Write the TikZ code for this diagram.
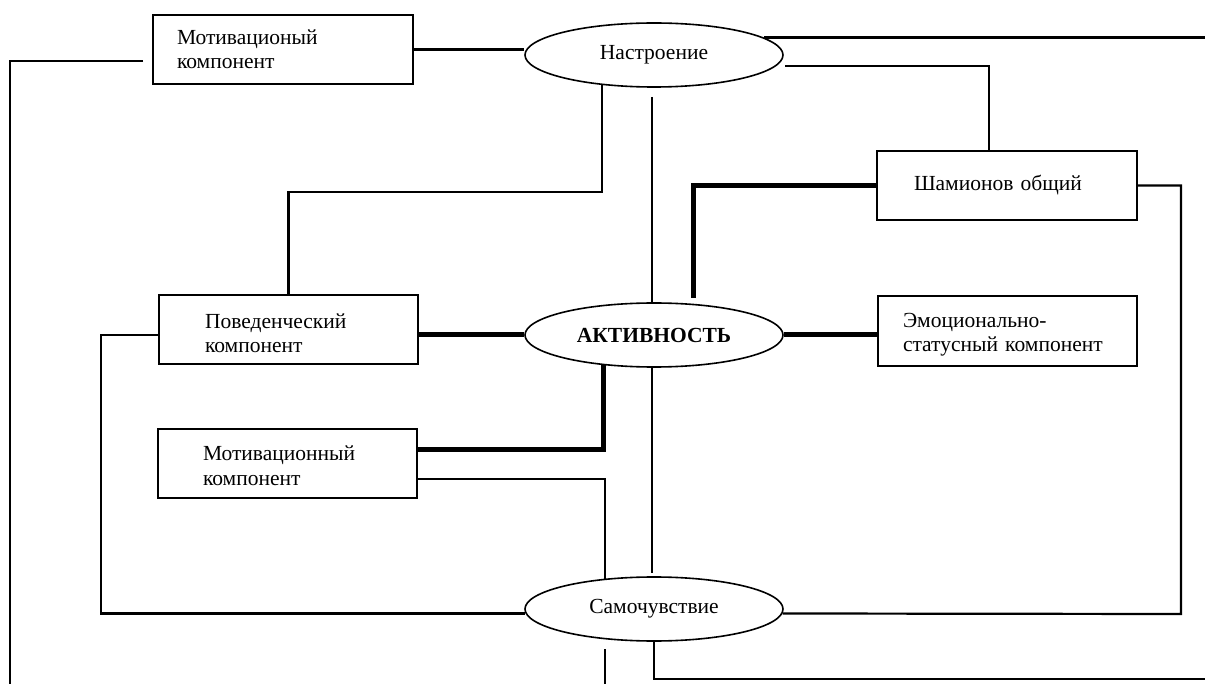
\documentclass[tikz,border=0pt]{standalone}
\usepackage{fontspec}
\setmainfont{Liberation Serif}
\usetikzlibrary{shapes.geometric,calc}
\begin{document}
\begin{tikzpicture}[x=1pt,y=-1pt,
  box/.style={draw, line width=1.6pt, rectangle, minimum height=69pt, align=left,
    font=\fontsize{21.5}{24.5}\selectfont, inner ysep=0pt},
  oval/.style={draw, line width=1.6pt, ellipse, minimum width=258pt, minimum height=64pt,
    inner sep=0pt, font=\fontsize{21.5}{24.5}\selectfont},
  lnk/.style={line width=2.2pt},
  lnkb/.style={line width=5pt}]
\useasboundingbox (0,0) rectangle (1205,684);

% boxes
\node[box, inner xsep=24pt, text width=212pt] (b1) at (283,49.5) {Мотивационый\\компонент};
\node[box, inner xsep=37pt, text width=186pt] (bsham) at (1007,185.5) {Шамионов общий};
\node[box, inner xsep=46pt, text width=167pt, text height=22pt] (bpov) at (288.5,329.5) {Поведенческий\\компонент};
\node[box, inner xsep=25pt, text width=209pt, minimum height=70pt, text height=22pt] (bemo) at (1007.5,331) {Эмоционально-\\\mbox{статусный компонент}};
\node[box, inner xsep=45pt, text width=169pt, text height=19pt] (bmot) at (287.5,463.5) {Мотивационный\\компонент};

% ellipses
\node[oval] (nastr) at (654,55) {Настроение};
\node[oval, font=\fontsize{21.5}{24.5}\selectfont\bfseries] (akt) at (654,335) {АКТИВНОСТЬ};
\node[oval] (samo) at (654,609) {Самочувствие};

% free ends
\coordinate (c1) at (143,61);
\coordinate (cL) at (10,684);
\coordinate (eR1) at (1205,37);
\coordinate (c2) at (785,66);
\coordinate (k1) at (288.5,192);
\coordinate (k2) at (652,97);
\coordinate (k3) at (693,298);
\coordinate (k4) at (101,335);
\coordinate (k5) at (1181,614);
\coordinate (k7) at (652,573);
\coordinate (k8) at (605,649);
\coordinate (k9) at (605,684);
\coordinate (k10) at (1205,679);

% connectors
\draw[lnk] (b1.east) -- (b1.east -| nastr.west);
\draw[lnk] (c1) -| (cL);
\draw[lnk] (nastr.9.5) -- (nastr.9.5 -| eR1);
\draw[lnk] (c2) -| ([xshift=-18pt]bsham.north);
\draw[lnk] (nastr.210.5) |- (k1) -- (bpov.north);
\draw[lnk] (k2) -- (k2 |- akt.north);
\draw[lnkb] (k3) |- (bsham.west);
\draw[lnkb] (akt.west) -- (akt.west -| bpov.east);
\draw[lnkb] (akt.east) -- (akt.east -| bemo.west);
\draw[lnk] (k4 -| bpov.west) -- (k4) |- (samo.182);
\draw[lnk] (bsham.east) -| (k5) -- (samo.-2);
\draw[lnkb] (akt.211) |- ([yshift=14.5pt]bmot.east);
\draw[lnk] ([yshift=-15.5pt]bmot.east) -| (samo.148);
\draw[lnk] (k7 |- akt.south) -- (k7);
\draw[lnk] (k8) -- (k9);
\draw[lnk] (samo.south) |- (k10);
\end{tikzpicture}
\end{document}
